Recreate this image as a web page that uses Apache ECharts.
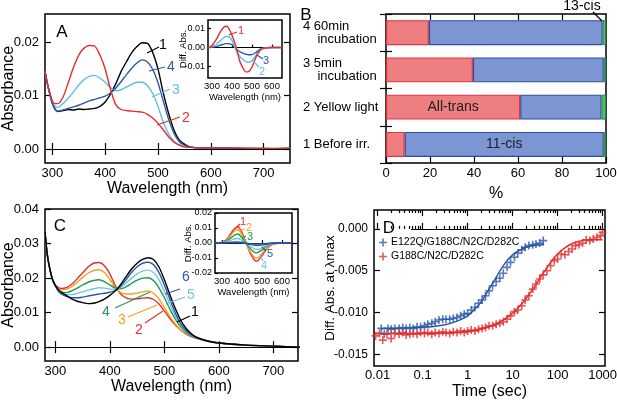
<!DOCTYPE html>
<html>
<head>
<meta charset="utf-8">
<script src="https://cdn.jsdelivr.net/npm/echarts@6.0.0/dist/echarts.min.js"></script>
<style>
  html, body { margin: 0; padding: 0; background: #fff; }
  #main { width: 617px; height: 400px; }
</style>
</head>
<body>
<div id="main"></div>
<script>
// ---- panel A : absorption spectra ----
const wlA = [286, 290, 295, 300, 305, 310, 320, 330, 340, 350, 360, 370, 380, 390, 400, 410, 420, 430, 440, 450, 460, 470, 480, 490, 500, 510, 520, 530, 540, 550, 560, 580, 600, 650, 700, 750];
const absA1 = [0.0146, 0.0125, 0.0105, 0.0085, 0.0075, 0.007, 0.0072, 0.0074, 0.0073, 0.0075, 0.0074, 0.0075, 0.0076, 0.008, 0.0088, 0.0103, 0.0122, 0.0145, 0.0163, 0.018, 0.0192, 0.0199, 0.0198, 0.0181, 0.015, 0.0105, 0.0067, 0.0036, 0.0017, 0.0009, 0.0004, 0.0002, 0.0002, 0.0001, 0.0001, 0.0];
const absA2 = [0.0146, 0.0125, 0.0105, 0.009, 0.0085, 0.0085, 0.0097, 0.0124, 0.0153, 0.0176, 0.0189, 0.0194, 0.0193, 0.0176, 0.015, 0.0112, 0.0083, 0.0074, 0.0072, 0.0071, 0.007, 0.0069, 0.0065, 0.0058, 0.0048, 0.0036, 0.0023, 0.0013, 0.0007, 0.0004, 0.0003, 0.0002, 0.0002, 0.0002, 0.0001, 0.0002];
const absA3 = [0.0146, 0.0125, 0.0105, 0.0088, 0.008, 0.0078, 0.0085, 0.0095, 0.0107, 0.012, 0.013, 0.0136, 0.0138, 0.0133, 0.0125, 0.0115, 0.0109, 0.0111, 0.0116, 0.0121, 0.0125, 0.0125, 0.0119, 0.0104, 0.008, 0.005, 0.0029, 0.0015, 0.0008, 0.0004, 0.0003, 0.0002, 0.0002, 0.0001, 0.0001, 0.0];
const absA4 = [0.0146, 0.0125, 0.0102, 0.0085, 0.0074, 0.0071, 0.0073, 0.0076, 0.0079, 0.0082, 0.0086, 0.009, 0.0093, 0.0096, 0.0099, 0.0105, 0.0114, 0.0126, 0.0139, 0.0151, 0.0161, 0.0167, 0.0163, 0.0149, 0.0124, 0.009, 0.0056, 0.003, 0.0014, 0.0007, 0.0004, 0.0002, 0.0002, 0.0001, 0.0, 0.0001];

// inset A : difference spectra
const wlAi = [280, 290, 300, 320, 340, 360, 370, 380, 400, 420, 440, 460, 470, 480, 500, 520, 540, 560, 600, 650];
const difA1 = [0, 0.0003, 0.001, 0.004, 0.008, 0.0108, 0.0112, 0.0108, 0.0065, 0.0005, -0.0075, -0.0118, -0.0128, -0.0128, -0.0103, -0.005, -0.0015, -0.0004, 0, 0];
const difA2 = [0, 0.0002, 0.0005, 0.0015, 0.0035, 0.0053, 0.0058, 0.0058, 0.0038, -0.0012, -0.0048, -0.0068, -0.0074, -0.0078, -0.007, -0.004, -0.0013, -0.0003, 0, 0];
const difA3 = [0, 0.0001, 0.0002, 0.0005, 0.0012, 0.0018, 0.0021, 0.0021, 0.0015, -0.0006, -0.0022, -0.0032, -0.0035, -0.0038, -0.0037, -0.0025, -0.0008, -0.0002, 0, 0];

// ---- panel B : isomer composition (%) ----
const isoCats = ['1 Before irr.', '2 Yellow light', '3 5min\n    incubation', '4 60min\n    incubation'];
const allTrans = [8.5, 61, 39.5, 19.5];
const cis11 = [90.5, 37, 59.5, 79];
const cis13 = [1, 2, 1, 1.5];

// ---- panel C : absorption spectra ----
const wlC = [281, 285, 290, 295, 300, 305, 310, 320, 330, 340, 350, 360, 370, 380, 390, 400, 410, 420, 430, 440, 450, 460, 470, 480, 490, 500, 510, 520, 530, 540, 550, 560, 580, 600, 650, 700, 750];
const absC1 = [0.0335, 0.027, 0.0225, 0.0195, 0.0178, 0.0168, 0.016, 0.015, 0.014, 0.0133, 0.0129, 0.0126, 0.0127, 0.0132, 0.0139, 0.015, 0.0163, 0.0182, 0.0205, 0.0227, 0.0243, 0.0254, 0.0259, 0.0254, 0.0232, 0.0195, 0.0152, 0.0112, 0.0078, 0.0054, 0.0038, 0.0028, 0.0018, 0.0012, 0.0006, 0.0003, 0.0];
const absC2 = [0.0335, 0.027, 0.0225, 0.0195, 0.018, 0.0173, 0.017, 0.0172, 0.0182, 0.0198, 0.0215, 0.0232, 0.0243, 0.0245, 0.0236, 0.0212, 0.0178, 0.0153, 0.0143, 0.0139, 0.014, 0.0142, 0.0143, 0.0138, 0.0125, 0.0105, 0.0083, 0.0064, 0.0049, 0.0038, 0.003, 0.0025, 0.0017, 0.0012, 0.0006, 0.0003, 0.0];
const absC3 = [0.0335, 0.027, 0.0225, 0.0195, 0.0178, 0.017, 0.0166, 0.0168, 0.0175, 0.0188, 0.0202, 0.0214, 0.0222, 0.0224, 0.0216, 0.0196, 0.0172, 0.0158, 0.0154, 0.0154, 0.0157, 0.016, 0.0163, 0.0156, 0.0139, 0.0115, 0.0089, 0.0067, 0.005, 0.0039, 0.0031, 0.0025, 0.0017, 0.0012, 0.0006, 0.0003, 0.0];
const absC4 = [0.0335, 0.027, 0.0225, 0.0195, 0.0178, 0.0166, 0.016, 0.0158, 0.0163, 0.0171, 0.018, 0.0188, 0.0193, 0.0195, 0.019, 0.018, 0.0171, 0.0169, 0.0175, 0.0185, 0.0194, 0.02, 0.0201, 0.0193, 0.0172, 0.0143, 0.011, 0.0081, 0.0058, 0.0043, 0.0033, 0.0026, 0.0017, 0.0012, 0.0006, 0.0003, 0.0];
const absC5 = [0.0335, 0.027, 0.0225, 0.0195, 0.0178, 0.0164, 0.0157, 0.0152, 0.0152, 0.0156, 0.016, 0.0165, 0.0169, 0.0172, 0.0171, 0.0168, 0.0167, 0.0173, 0.0186, 0.02, 0.0212, 0.022, 0.0223, 0.0216, 0.0195, 0.0162, 0.0125, 0.009, 0.0064, 0.0046, 0.0034, 0.0027, 0.0017, 0.0012, 0.0006, 0.0003, 0.0];
const absC6 = [0.0335, 0.027, 0.0225, 0.0195, 0.0178, 0.0163, 0.0155, 0.0147, 0.0143, 0.0143, 0.0145, 0.0148, 0.0151, 0.0154, 0.0156, 0.0159, 0.0164, 0.0177, 0.0196, 0.0217, 0.0233, 0.0243, 0.0246, 0.0239, 0.0216, 0.018, 0.0139, 0.0099, 0.0068, 0.0048, 0.0035, 0.0027, 0.0017, 0.0012, 0.0006, 0.0003, 0.0];

// inset C : difference spectra
const wlCi = [265, 280, 300, 320, 340, 360, 370, 380, 400, 420, 440, 460, 470, 480, 500, 520, 540, 560, 600, 650];
const difC1 = [0, 0, 0.0005, 0.002, 0.0055, 0.0092, 0.0103, 0.0108, 0.007, 0.0005, -0.0065, -0.011, -0.012, -0.0118, -0.0085, -0.0045, -0.0018, -0.0006, 0, 0];
const difC2 = [0, 0, 0.0004, 0.0017, 0.0045, 0.0076, 0.0086, 0.009, 0.0055, 0.0002, -0.0055, -0.0092, -0.0102, -0.0098, -0.007, -0.0038, -0.0015, -0.0005, 0, 0];
const difC3 = [0, 0, 0.0003, 0.0011, 0.003, 0.005, 0.0057, 0.006, 0.0035, -0.0001, -0.0036, -0.006, -0.0066, -0.0063, -0.0046, -0.0025, -0.001, -0.0003, 0, 0];
const difC4 = [0, 0, 0.0002, 0.0006, 0.0015, 0.0026, 0.003, 0.003, 0.0018, -0.0002, -0.0022, -0.0037, -0.0042, -0.0042, -0.0032, -0.0017, -0.0007, -0.0002, 0, 0];
const difC5 = [0, 0, 0.0001, 0.0002, 0.0004, 0.0006, 0.0007, 0.0007, 0.0003, -0.0003, -0.0009, -0.0014, -0.0016, -0.0017, -0.0014, -0.0008, -0.0003, -0.0001, 0, 0];
const difC6 = [0, 0, 0, 0.0001, 0.0001, 0.0001, 0.0001, 0.0001, 0, -0.0002, -0.0004, -0.0006, -0.0007, -0.0007, -0.0006, -0.0003, -0.0001, 0, 0, 0];

// ---- panel D : kinetics ----
const blueT = [0.012, 0.014, 0.017, 0.02, 0.024, 0.03, 0.036, 0.043, 0.052, 0.062, 0.075, 0.09, 0.11, 0.13, 0.16, 0.19, 0.23, 0.28, 0.33, 0.4, 0.48, 0.58, 0.7, 0.84, 1.0, 1.2, 1.45, 1.75, 2.1, 2.5, 3.0, 3.6, 4.3, 5.2, 6.2, 7.5, 9, 11, 13, 16, 19, 23, 28, 33, 40, 48];
const blueV = [-0.0119, -0.0126, -0.0119, -0.012, -0.0119, -0.0119, -0.0118, -0.0119, -0.0118, -0.0119, -0.0117, -0.0117, -0.0116, -0.0114, -0.0113, -0.0111, -0.0109, -0.0108, -0.0108, -0.0108, -0.0107, -0.0106, -0.0104, -0.0102, -0.0101, -0.0097, -0.0094, -0.0089, -0.0085, -0.008, -0.0074, -0.0068, -0.0063, -0.0059, -0.0053, -0.0046, -0.004, -0.0034, -0.0029, -0.0025, -0.0022, -0.002, -0.0019, -0.0018, -0.0017, -0.0014];
const redT = [0.009, 0.011, 0.013, 0.016, 0.02, 0.024, 0.03, 0.036, 0.043, 0.052, 0.062, 0.075, 0.09, 0.11, 0.13, 0.16, 0.19, 0.23, 0.28, 0.33, 0.4, 0.48, 0.58, 0.7, 0.84, 1.0, 1.2, 1.45, 1.75, 2.1, 2.5, 3.0, 3.6, 4.3, 5.2, 6.2, 7.5, 9, 11, 13, 16, 19, 23, 28, 33, 40, 48, 58, 70, 84, 100, 120, 145, 175, 210, 250, 300, 360, 430, 520, 620, 750, 900, 1000];
const redV = [-0.0128, -0.0125, -0.0133, -0.0126, -0.0131, -0.0125, -0.0126, -0.0124, -0.0127, -0.0126, -0.0125, -0.0126, -0.0124, -0.0125, -0.0124, -0.0126, -0.0124, -0.0125, -0.0123, -0.0124, -0.0125, -0.0123, -0.0124, -0.0122, -0.0124, -0.0122, -0.0121, -0.0122, -0.012, -0.0119, -0.0118, -0.0116, -0.0116, -0.0114, -0.0113, -0.0111, -0.0108, -0.0104, -0.0099, -0.0097, -0.0092, -0.0085, -0.008, -0.0072, -0.0066, -0.006, -0.0055, -0.005, -0.0044, -0.0038, -0.0036, -0.003, -0.0031, -0.0027, -0.0024, -0.002, -0.0019, -0.0017, -0.0013, -0.0014, -0.0012, -0.001, -0.0008, -0.0004];
const blueFitT = [0.012, 0.1, 0.3, 0.6, 1, 1.5, 2, 3, 4, 5, 7, 10, 15, 20, 30, 50];
const blueFitV = [-0.0119, -0.0118, -0.0115, -0.011, -0.0104, -0.0095, -0.0087, -0.0072, -0.0061, -0.0052, -0.004, -0.0031, -0.0025, -0.0022, -0.002, -0.0019];
const redFitT = [0.009, 0.1, 1, 3, 5, 8, 12, 20, 30, 45, 70, 100, 150, 250, 500, 1000];
const redFitV = [-0.0125, -0.0125, -0.0123, -0.0117, -0.0112, -0.0105, -0.0097, -0.0083, -0.007, -0.0055, -0.004, -0.003, -0.0022, -0.0016, -0.0013, -0.0013];

const FONT = '"Liberation Sans", Arial, sans-serif';
const RED = '#e42d2d', BLACK = '#000', CYAN = '#5cc0dc', BLUE = '#2b58a8';
const ORANGE = '#f5a11f', GREEN = '#1f9a4a', LCYAN = '#70c6e2', DBLUE = '#2a4a9a';
const PLUS = 'path://M4,0H6V4H10V6H6V10H4V6H0V4H4Z';

const zip = (xs, ys) => xs.map((x, i) => [x, ys[i]]);
const wlTicks = [300, 400, 500, 600, 700];
const inTicks = [300, 400, 500, 600];
const decades = [0.01, 0.1, 1, 10, 100, 1000];
const minorT = [];
[0.01, 0.1, 1, 10, 100].forEach(d => { for (let k = 2; k <= 9; k++) minorT.push(+(k * d).toPrecision(3)); });

function axis(gi, pos, min, max, ticks, len, labelOpt, extra) {
  return Object.assign({
    gridIndex: gi, type: 'value', position: pos, min: min, max: max,
    axisLine: { show: false }, splitLine: { show: false },
    axisTick: { show: true, inside: true, length: len, customValues: ticks, lineStyle: { color: '#000', width: 1.2 } },
    axisLabel: Object.assign({ show: !!labelOpt, customValues: ticks, color: '#000', fontFamily: FONT, fontSize: 13 }, labelOpt || {})
  }, extra || {});
}
const nameStyle = (s) => ({ fontSize: s, fontFamily: FONT, color: '#000' });
// y axis title kept where placed (no automatic shift away from tick labels)
const yName = (n, gap, size) => ({ name: n, nameLocation: 'middle', nameGap: gap, nameMoveOverlap: false, nameTextStyle: nameStyle(size) });

function line(xi, yi, xs, ys, color, w, z) {
  return { type: 'line', xAxisIndex: xi, yAxisIndex: yi, data: zip(xs, ys), showSymbol: false, smooth: 0.25,
    lineStyle: { color: color, width: w || 1.4 }, itemStyle: { color: color }, z: z || 2, silent: true };
}
const zeroLine = { silent: true, symbol: 'none', label: { show: false }, lineStyle: { color: '#000', width: 1.2, type: 'solid' }, data: [{ yAxis: 0 }] };

const boxGrid = (l, t, w, h, z) => ({ left: l, top: t, width: w, height: h, show: true, borderColor: '#000', borderWidth: 1.5,
  backgroundColor: '#fff', z: z || 0, outerBoundsMode: 'none', containLabel: false });

const f2 = v => (+v).toFixed(2);
const f3 = v => (+v).toFixed(3);

const option = {
  animation: false,
  textStyle: { fontFamily: FONT },
  grid: [
    boxGrid(45, 14, 245, 149),
    boxGrid(208, 20, 74, 58, 5),
    boxGrid(386, 14, 220, 149),
    boxGrid(45, 209, 253, 152),
    boxGrid(215, 213, 77, 60, 5),
    boxGrid(374, 210, 231, 156)
  ],
  xAxis: [
    axis(0, 'bottom', 286, 750, wlTicks, 6, { margin: 4 }, { name: 'Wavelength (nm)', nameLocation: 'middle', nameGap: 16, nameTextStyle: nameStyle(16) }),
    axis(0, 'top', 286, 750, wlTicks, 6),
    axis(1, 'bottom', 280, 650, inTicks, 3, { fontSize: 9.5, margin: 3 }, { name: 'Wavelength (nm)', nameLocation: 'middle', nameGap: 14, nameTextStyle: nameStyle(9.5), z: 6 }),
    axis(2, 'bottom', 0, 100, [0, 20, 40, 60, 80, 100], 6, { margin: 4 }, { name: '%', nameLocation: 'middle', nameGap: 23, nameTextStyle: nameStyle(16) }),
    axis(2, 'top', 0, 100, [20, 40, 60, 80], 6),
    axis(3, 'bottom', 281, 745, wlTicks, 6, { margin: 4 }, { name: 'Wavelength (nm)', nameLocation: 'middle', nameGap: 15, nameTextStyle: nameStyle(16) }),
    axis(3, 'top', 281, 745, wlTicks, 6),
    axis(4, 'bottom', 265, 650, inTicks, 3, { fontSize: 9.5, margin: 3 }, { name: 'Wavelength (nm)', nameLocation: 'middle', nameGap: 14, nameTextStyle: nameStyle(9.5), z: 6 }),
    axis(5, 'bottom', 0.0083, 1130, decades, 6, { margin: 3, formatter: v => String(+(+v).toPrecision(3)) }, { type: 'log', logBase: 10, name: 'Time (sec)', nameLocation: 'middle', nameGap: 18, nameTextStyle: nameStyle(16) }),
    axis(5, 'bottom', 0.0083, 1130, minorT, 3, null, { type: 'log', logBase: 10 }),
    axis(5, 'top', 0.0083, 1130, decades, 6, null, { type: 'log', logBase: 10 }),
    axis(5, 'top', 0.0083, 1130, minorT, 3, null, { type: 'log', logBase: 10 })
  ],
  yAxis: [
    axis(0, 'left', -0.00263, 0.0253, [0, 0.01, 0.02], 6, { formatter: f2, margin: 6 }, yName('Absorbance', 28, 16)),
    axis(0, 'right', -0.00263, 0.0253, [0, 0.01, 0.02], 6),
    axis(1, 'left', -0.016, 0.0145, [-0.01, 0, 0.01], 3, { formatter: f2, fontSize: 9, margin: 3 }, Object.assign(yName('Diff. Abs.', 20, 9.5), { z: 6 })),
    { gridIndex: 2, type: 'category', data: isoCats, position: 'left', axisLine: { show: false },
      axisTick: { show: true, inside: true, length: 6, lineStyle: { color: '#000', width: 1.2 } },
      axisLabel: { align: 'left', margin: 83, color: '#000', fontFamily: FONT, fontSize: 13, lineHeight: 13 } },
    { gridIndex: 2, type: 'category', data: isoCats, position: 'right', axisLine: { show: false },
      axisTick: { show: true, inside: true, length: 6, lineStyle: { color: '#000', width: 1.2 } }, axisLabel: { show: false } },
    axis(3, 'left', -0.004, 0.04, [0, 0.01, 0.02, 0.03, 0.04], 6, { formatter: f2, margin: 6 }, yName('Absorbance', 28, 16)),
    axis(3, 'right', -0.004, 0.04, [0, 0.01, 0.02, 0.03, 0.04], 6),
    axis(4, 'left', -0.02, 0.02, [-0.02, -0.01, 0, 0.01, 0.02], 3, { formatter: f2, fontSize: 9, margin: 3 }, Object.assign(yName('Diff. Abs.', 22, 9.5), { z: 6 })),
    axis(5, 'left', -0.0164, 0.00226, [0, -0.005, -0.01, -0.015], 6, { formatter: f3, margin: 6, fontSize: 12 }, yName('Diff. Abs. at λmax', 37, 13.5)),
    axis(5, 'right', -0.0164, 0.00226, [0, -0.005, -0.01, -0.015], 6)
  ],
  legend: {
    data: [{ name: 'E122Q/G188C/N2C/D282C', icon: PLUS }, { name: 'G188C/N2C/D282C', icon: PLUS }],
    orient: 'vertical', left: 379, top: 237, itemWidth: 8, itemHeight: 8, itemGap: 3, padding: 0,
    textStyle: { fontSize: 10.5, fontFamily: FONT, color: '#000', padding: [0, 0, 0, -1] }
  },
  series: [
    // A
    Object.assign(line(0, 0, wlA, absA1, BLACK), { markLine: zeroLine }),
    line(0, 0, wlA, absA3, CYAN),
    line(0, 0, wlA, absA4, BLUE),
    line(0, 0, wlA, absA2, RED),
    // A inset
    Object.assign(line(2, 2, wlAi, difA3, BLUE, 1.4, 6), { markLine: zeroLine }),
    line(2, 2, wlAi, difA2, CYAN, 1.4, 6),
    line(2, 2, wlAi, difA1, RED, 1.4, 6),
    // B
    { type: 'bar', xAxisIndex: 3, yAxisIndex: 3, stack: 'iso', barWidth: 25,
      data: allTrans.map((v, i) => i === 1 ? { value: v, label: { show: true, formatter: 'All-trans' } } : v),
      label: { show: false, position: 'inside', color: '#222', fontSize: 14, fontFamily: FONT },
      itemStyle: { color: '#ee7e80', borderColor: '#e2323a', borderWidth: 1.2 } },
    { type: 'bar', xAxisIndex: 3, yAxisIndex: 3, stack: 'iso', barWidth: 25,
      data: cis11.map((v, i) => i === 0 ? { value: v, label: { show: true, formatter: '11-cis' } } : v),
      label: { show: false, position: 'inside', color: '#222', fontSize: 14, fontFamily: FONT },
      itemStyle: { color: '#7b96d2', borderColor: '#2b50a0', borderWidth: 1.2 } },
    { type: 'bar', xAxisIndex: 3, yAxisIndex: 3, stack: 'iso', barWidth: 25, data: cis13,
      itemStyle: { color: '#5cc062', borderColor: '#1f8a4a', borderWidth: 1 } },
    // C
    Object.assign(line(5, 5, wlC, absC2, RED), { markLine: zeroLine }),
    line(5, 5, wlC, absC3, ORANGE),
    line(5, 5, wlC, absC4, GREEN),
    line(5, 5, wlC, absC5, LCYAN),
    line(5, 5, wlC, absC6, BLUE),
    line(5, 5, wlC, absC1, BLACK),
    // C inset
    Object.assign(line(7, 7, wlCi, difC1, RED, 1.4, 6), { markLine: zeroLine }),
    line(7, 7, wlCi, difC2, ORANGE, 1.4, 6),
    line(7, 7, wlCi, difC3, GREEN, 1.4, 6),
    line(7, 7, wlCi, difC4, LCYAN, 1.4, 6),
    line(7, 7, wlCi, difC5, BLUE, 1.4, 6),
    line(7, 7, wlCi, difC6, DBLUE, 1.4, 6),
    // D
    Object.assign(line(8, 8, blueFitT, blueFitV, BLUE, 1.5), { smooth: 0.4,
      markLine: { silent: true, symbol: 'none', label: { show: false }, lineStyle: { color: '#000', width: 1.2, type: 'solid' },
        data: [[{ coord: [0.055, 0] }, { coord: [1130, 0] }]] } }),
    Object.assign(line(8, 8, redFitT, redFitV, RED, 1.5), { smooth: 0.4 }),
    { type: 'scatter', name: 'E122Q/G188C/N2C/D282C', xAxisIndex: 8, yAxisIndex: 8, data: zip(blueT, blueV),
      symbol: PLUS, symbolSize: 8, itemStyle: { color: BLUE } },
    { type: 'scatter', name: 'G188C/N2C/D282C', xAxisIndex: 8, yAxisIndex: 8, data: zip(redT, redV),
      symbol: PLUS, symbolSize: 8, itemStyle: { color: RED } }
  ],
  graphic: []
};

// panel letters and curve annotations
function txt(t, x, y, color, size) {
  return { type: 'text', z: 100, style: { text: t, x: x, y: y, fill: color, font: size + 'px ' + FONT, align: 'center', verticalAlign: 'middle' } };
}
function seg(x1, y1, x2, y2, color) {
  return { type: 'line', z: 100, shape: { x1: x1, y1: y1, x2: x2, y2: y2 }, style: { stroke: color, lineWidth: 1.2 } };
}
option.graphic = [
  txt('A', 62, 32, '#000', 17), txt('B', 306, 15, '#000', 17), txt('C', 60, 226, '#000', 17), txt('D', 389, 228, '#000', 17),
  // A labels
  seg(147, 53, 159, 47, BLACK), txt('1', 163, 45, BLACK, 14),
  seg(149, 71, 165, 67, BLUE), txt('4', 171, 67, BLUE, 14),
  seg(152, 97, 170, 89, CYAN), txt('3', 176, 90, CYAN, 14),
  seg(157, 125, 180, 117, RED), txt('2', 186, 118, RED, 14),
  // A inset labels
  seg(229, 35, 237, 32, RED), txt('1', 241, 31, RED, 11),
  seg(257, 55, 263, 59, BLUE), txt('3', 266, 61, BLUE, 11),
  seg(253, 61, 259, 67, CYAN), txt('2', 262, 72, CYAN, 11),
  // B annotation
  txt('13-cis', 582, 6, '#000', 14), seg(593, 12, 602, 21, '#000'),
  // C labels
  seg(165, 294, 180, 289, BLUE), txt('6', 186, 277, BLUE, 14),
  seg(168, 303, 185, 297, LCYAN), txt('5', 191, 295, LCYAN, 14),
  seg(177, 322, 190, 316, BLACK), txt('1', 195, 312, BLACK, 14),
  seg(115, 308, 150, 292, GREEN), txt('4', 106, 312, GREEN, 14),
  seg(128, 317, 157, 305, ORANGE), txt('3', 122, 320, ORANGE, 14),
  seg(145, 323, 163, 311, RED), txt('2', 139, 330, RED, 14),
  // C inset labels
  seg(236, 228, 240, 224, RED), txt('1', 243, 222, RED, 11),
  seg(238, 231, 245, 229, ORANGE), txt('2', 249, 228, ORANGE, 11),
  seg(242, 238, 246, 236, GREEN), txt('3', 250, 237, GREEN, 11),
  seg(262, 247, 266, 251, BLUE), txt('5', 270, 254, BLUE, 11),
  seg(260, 255, 263, 261, LCYAN), txt('4', 264, 266, LCYAN, 11)
];

const chart = echarts.init(document.getElementById('main'), null, { renderer: 'canvas' });
chart.setOption(option);
</script>
</body>
</html>
